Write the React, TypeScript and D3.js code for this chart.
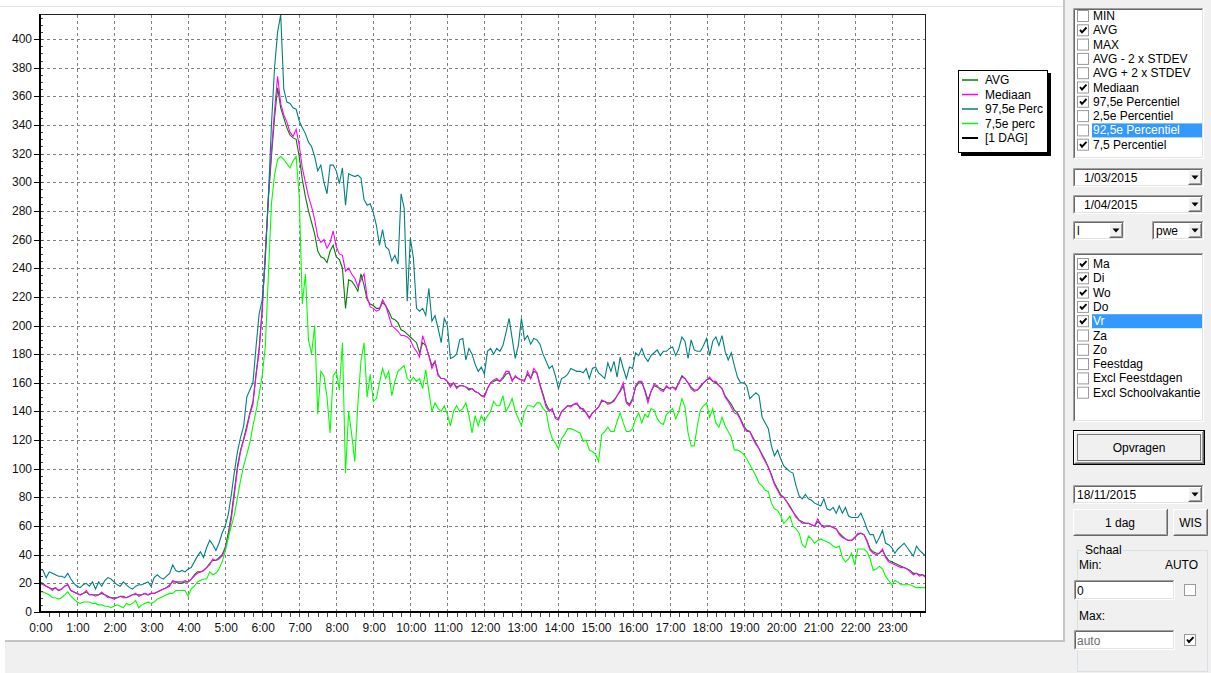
import * as d3 from 'd3';

// 5-minute samples, 0:00 .. 23:55 (one row per hour)
const p975Values = [
  30, 29, 24, 28, 27, 26, 25, 25, 24, 27, 23, 20,
  18, 17, 19, 20, 18, 21, 16, 21, 18, 22, 24, 23,
  21, 19, 18, 21, 19, 17, 16, 18, 19, 19, 20, 21,
  18, 24, 26, 24, 23, 25, 27, 33, 29, 28, 29, 28,
  30, 31, 35, 39, 42, 38, 45, 50, 47, 43, 48, 55,
  60, 68, 82, 98, 112, 122, 130, 150, 155, 160, 185, 208,
  218, 245, 290, 340, 380, 405, 417, 365, 356, 355, 352, 351,
  343, 338, 334, 328, 325, 318, 308, 312, 300, 292, 312, 312,
  308, 299, 310, 284, 306, 305, 304, 305, 303, 288, 284, 285,
  279, 270, 256, 267, 255, 253, 245, 249, 243, 292, 282, 217,
  261, 247, 212, 210, 212, 207, 226, 203, 207, 198, 188, 205,
  200, 177, 178, 180, 190, 191, 176, 184, 180, 173, 168, 171,
  166, 182, 184, 180, 184, 182, 186, 195, 205, 191, 177, 186,
  205, 190, 193, 187, 191, 190, 187, 180, 175, 170, 172, 165,
  156, 163, 164, 166, 170, 169, 168, 168, 167, 170, 163, 170,
  171, 167, 165, 163, 174, 168, 175, 164, 178, 170, 163, 171,
  170, 181, 179, 184, 178, 175, 179, 181, 183, 179, 182, 182,
  184, 185, 179, 184, 192, 189, 177, 190, 183, 182, 182, 186,
  191, 179, 189, 192, 186, 193, 182, 176, 181, 172, 164, 160,
  160, 158, 149, 151, 153, 151, 136, 132, 128, 116, 109, 113,
  107, 102, 100, 98, 97, 88, 81, 79, 82, 79, 78, 76,
  75, 74, 79, 72, 71, 73, 69, 74, 69, 73, 67, 66,
  66, 66, 69, 64, 58, 54, 54, 48, 52, 57, 48, 47,
  45, 41, 44, 46, 48, 45, 42, 39, 46, 43, 41, 39,
];

const medianValues = [
  20, 19, 18, 17, 15, 17, 15, 16, 18, 19, 15, 14,
  13, 12, 13, 15, 12, 12, 11, 12, 14, 12, 10, 10,
  9, 10, 11, 10, 10, 11, 12, 13, 11, 12, 13, 12,
  13, 13, 14, 15, 16, 17, 18, 22, 21, 21, 21, 22,
  21, 23, 25, 27, 28, 29, 31, 33, 37, 36, 37, 39,
  44, 52, 65, 82, 100, 112, 120, 128, 138, 145, 165, 182,
  210, 250, 290, 322, 350, 374, 355, 347, 342, 335, 332, 337,
  326, 310, 300, 290, 283, 274, 262, 258, 260, 254, 258, 266,
  255, 250, 249, 238, 240, 236, 233, 227, 232, 236, 220, 213,
  212, 210, 211, 218, 214, 207, 200, 198, 196, 193, 193, 192,
  190, 185, 182, 178, 193, 186, 179, 170, 175, 165, 163, 163,
  161, 157, 160, 156, 158, 158, 157, 156, 156, 154, 153, 151,
  150, 156, 160, 162, 163, 161, 164, 168, 168, 161, 165, 163,
  162, 161, 168, 163, 170, 167, 158, 151, 143, 140, 142, 135,
  134, 140, 142, 144, 143, 145, 146, 142, 142, 139, 135, 139,
  141, 143, 148, 147, 145, 146, 147, 151, 155, 160, 146, 144,
  148, 158, 161, 161, 154, 146, 154, 159, 158, 155, 154, 158,
  156, 157, 155, 160, 164, 163, 160, 156, 154, 155, 158, 160,
  162, 164, 161, 161, 158, 156, 150, 147, 143, 139, 138, 134,
  129, 126, 126, 121, 117, 114, 109, 105, 101, 95, 89, 85,
  81, 80, 77, 73, 70, 66, 64, 62, 62, 62, 61, 60,
  65, 61, 59, 60, 60, 59, 58, 54, 52, 51, 50, 50,
  52, 55, 55, 54, 49, 43, 41, 40, 41, 44, 38, 35,
  34, 33, 32, 31, 31, 30, 28, 26, 27, 25, 26, 24,
];

const avgValues = [
  21, 20, 18, 17, 16, 17, 15, 16, 18, 19, 15, 14,
  13, 12, 13, 14, 12, 12, 12, 12, 13, 12, 11, 10,
  10, 10, 11, 11, 10, 11, 12, 12, 12, 12, 13, 12,
  13, 13, 14, 15, 16, 17, 19, 21, 21, 20, 20, 21,
  21, 23, 26, 28, 28, 29, 31, 34, 36, 36, 38, 40,
  45, 55, 68, 85, 102, 113, 121, 130, 139, 147, 166, 184,
  212, 250, 288, 318, 345, 366, 352, 345, 338, 333, 331, 330,
  318, 302, 290, 280, 272, 264, 252, 248, 247, 244, 252, 256,
  248, 246, 240, 212, 232, 231, 228, 224, 236, 228, 218, 215,
  214, 212, 212, 216, 214, 210, 205, 204, 202, 197, 196, 194,
  192, 190, 188, 181, 188, 186, 179, 172, 175, 166, 163, 163,
  161, 158, 160, 157, 158, 158, 157, 155, 156, 154, 153, 151,
  151, 156, 160, 161, 162, 161, 163, 166, 167, 162, 164, 163,
  162, 162, 166, 163, 168, 167, 159, 152, 145, 141, 141, 136,
  135, 140, 142, 144, 144, 145, 145, 143, 141, 139, 136, 139,
  141, 143, 147, 147, 146, 146, 148, 151, 154, 158, 147, 145,
  149, 157, 160, 160, 155, 148, 154, 158, 157, 156, 155, 157,
  156, 157, 156, 160, 165, 163, 160, 157, 155, 155, 157, 160,
  162, 163, 161, 160, 158, 156, 151, 148, 145, 141, 139, 135,
  130, 127, 126, 122, 118, 114, 110, 106, 101, 96, 90, 86,
  82, 80, 77, 74, 70, 67, 64, 63, 62, 62, 61, 60,
  63, 61, 60, 60, 60, 59, 58, 55, 53, 51, 50, 50,
  52, 54, 55, 54, 50, 44, 42, 41, 41, 43, 39, 36,
  35, 34, 33, 32, 31, 30, 29, 27, 27, 26, 26, 25,
];

const p75Values = [
  14, 14, 13, 12, 10, 10, 9, 10, 12, 14, 11, 9,
  7, 6, 7, 7, 7, 6, 6, 5, 5, 4, 4, 3,
  4, 5, 4, 3, 6, 5, 6, 8, 3, 5, 6, 7,
  6, 7, 9, 10, 11, 12, 13, 13, 15, 15, 15, 15,
  11, 16, 18, 21, 22, 23, 23, 28, 26, 27, 30, 35,
  42, 52, 60, 68, 80, 92, 102, 110, 118, 130, 140, 152,
  165, 185, 235, 285, 305, 316, 318, 316, 313, 310, 315, 318,
  290, 215, 236, 190, 180, 200, 138, 168, 165, 150, 125, 165,
  168, 155, 188, 97, 140, 124, 105, 145, 175, 188, 150, 166,
  147, 149, 160, 170, 163, 168, 151, 161, 168, 170, 172, 163,
  161, 164, 161, 163, 156, 169, 154, 140, 146, 142, 140, 144,
  138, 130, 140, 144, 140, 142, 146, 137, 125, 137, 130, 137,
  133, 137, 140, 147, 144, 144, 151, 140, 144, 149, 140, 135,
  130, 140, 144, 144, 143, 146, 146, 142, 140, 128, 121, 118,
  114, 121, 124, 128, 128, 127, 126, 125, 119, 120, 113, 112,
  110, 105, 124, 126, 129, 126, 126, 133, 139, 132, 126, 126,
  128, 135, 139, 132, 138, 136, 142, 141, 135, 132, 131, 138,
  140, 142, 135, 140, 149, 143, 125, 116, 116, 130, 141, 144,
  146, 136, 142, 132, 129, 136, 130, 126, 122, 113, 113, 112,
  110, 107, 103, 99, 95, 90, 88, 85, 84, 76, 72, 71,
  67, 62, 64, 67, 60, 58, 55, 47, 45, 53, 51, 48,
  50, 51, 50, 49, 48, 46, 45, 46, 38, 35, 37, 41,
  33, 44, 44, 44, 42, 37, 29, 30, 32, 30, 25, 22,
  19, 22, 21, 19, 19, 19, 19, 18, 17, 17, 17, 17,
];

const hourLabels = d3.range(24).map(h => `${h}:00`);
const yTicks = d3.range(0, 401, 20);

const series = [
  { label: 'AVG', color: '#008000', values: avgValues },
  { label: 'Mediaan', color: '#ff00ff', values: medianValues },
  { label: '97,5e Perc', color: '#008080', values: p975Values },
  { label: '7,5e perc', color: '#00ff00', values: p75Values },
];
const legendExtra = { label: '[1 DAG]', color: '#000000' };

const statItems: [string, boolean][] = [
  ['MIN', false], ['AVG', true], ['MAX', false], ['AVG - 2 x STDEV', false],
  ['AVG + 2 x STDEV', false], ['Mediaan', true], ['97,5e Percentiel', true],
  ['2,5e Percentiel', false], ['92,5e Percentiel', false], ['7,5 Percentiel', true],
];
const dayItems: [string, boolean][] = [
  ['Ma', true], ['Di', true], ['Wo', true], ['Do', true], ['Vr', true],
  ['Za', false], ['Zo', false], ['Feestdag', false], ['Excl Feestdagen', false],
  ['Excl Schoolvakantie', false],
];

const FONT = "'Liberation Sans', Arial, sans-serif";
const FACE = '#f0f0f0';

function Sunken({ x, y, w, h, fill = '#fff' }: { x: number; y: number; w: number; h: number; fill?: string }) {
  return (
    <g>
      <rect x={x} y={y} width={w} height={h} fill={fill} />
      <path d={`M${x + 0.5},${y + h} V${y + 0.5} H${x + w}`} stroke="#a0a0a0" fill="none" />
      <path d={`M${x + 0.5},${y + h - 0.5} H${x + w - 0.5} V${y}`} stroke="#ffffff" fill="none" />
      <path d={`M${x + 1.5},${y + h - 1} V${y + 1.5} H${x + w - 1}`} stroke="#696969" fill="none" />
      <path d={`M${x + 1.5},${y + h - 1.5} H${x + w - 1.5} V${y + 1}`} stroke="#e3e3e3" fill="none" />
    </g>
  );
}

function Raised({ x, y, w, h }: { x: number; y: number; w: number; h: number }) {
  return (
    <g>
      <rect x={x} y={y} width={w} height={h} fill={FACE} />
      <path d={`M${x + 0.5},${y + h} V${y + 0.5} H${x + w}`} stroke="#ffffff" fill="none" />
      <path d={`M${x + 0.5},${y + h - 0.5} H${x + w - 0.5} V${y}`} stroke="#696969" fill="none" />
      <path d={`M${x + 1.5},${y + h - 1.5} H${x + w - 1.5} V${y + 1}`} stroke="#a0a0a0" fill="none" />
    </g>
  );
}

function CheckBox({ x, y, checked }: { x: number; y: number; checked: boolean }) {
  return (
    <g>
      <rect x={x + 0.5} y={y + 0.5} width={11} height={11} fill="#fff" stroke="#9a9a9a" />
      {checked && (
        <path d={`M${x + 3},${y + 5.5} L${x + 5},${y + 8} L${x + 9.5},${y + 3.2}`} fill="none" stroke="#000" strokeWidth={1.9} />
      )}
    </g>
  );
}

function Combo({ x, y, w, h, text, pad = 4 }: { x: number; y: number; w: number; h: number; text: string; pad?: number }) {
  const bx = x + w - 16;
  return (
    <g>
      <Sunken x={x} y={y} w={w} h={h} />
      <Raised x={bx} y={y + 2} w={14} h={h - 4} />
      <path d={`M${bx + 3.5},${y + h / 2 - 2} h7 l-3.5,4 z`} fill="#000" />
      <text x={x + pad} y={y + h / 2 + 0.5} dominantBaseline="central" fontSize={12} fill="#000">{text}</text>
    </g>
  );
}

function CheckList({ x, y, w, h, top, items, selected }: { x: number; y: number; w: number; h: number; top: number; items: [string, boolean][]; selected: number }) {
  const row = d3.scaleLinear().domain([0, 1]).range([top, top + 14.3]);
  return (
    <g>
      <Sunken x={x} y={y} w={w} h={h} />
      {items.map(([label, checked], i) => {
        const cy = row(i);
        return (
          <g key={label}>
            {i === selected && <rect x={x + 19} y={cy - 7} width={w - 21} height={14} fill="#3399ff" />}
            <CheckBox x={x + 4} y={cy - 6} checked={checked} />
            <text x={x + 20} y={cy} dominantBaseline="central" fontSize={12} fill={i === selected ? '#fff' : '#000'}>{label}</text>
          </g>
        );
      })}
    </g>
  );
}

export default function App() {
  const x = d3.scaleLinear().domain([0, 1435]).range([40, 925.7]);
  const y = d3.scaleLinear().domain([0, 417.5]).range([612, 14]);
  const line = d3.line<number>().x((_, i) => x(i * 5)).y(d => y(d));
  const minorX = d3.range(15, 1440, 15);
  const minorY = d3.range(5, 416, 5);

  return (
    <div style={{ position: 'fixed', left: 0, top: 0 }}>
      <svg width={1211} height={673} fontFamily={FONT} style={{ display: 'block' }}>
        <rect width={1211} height={673} fill="#fff" />
        <line x1={0} x2={1063} y1={6.5} y2={6.5} stroke="#e4e4e4" />
        <rect x={5} y={641} width={1059} height={32} fill={FACE} />
        <line x1={5} x2={1064} y1={641} y2={641} stroke="#c4c4c4" strokeWidth={2} />
        <rect x={1064} y={0} width={147} height={673} fill={FACE} />
        <line x1={1064} x2={1064} y1={0} y2={642} stroke="#c4c4c4" strokeWidth={2} />

        {/* grid */}
        <g stroke="#808080" strokeDasharray="3,3">
          {yTicks.slice(1).map(v => (
            <line key={v} x1={41} x2={925} y1={Math.round(y(v)) + 0.5} y2={Math.round(y(v)) + 0.5} />
          ))}
          {hourLabels.slice(1).map((_, h) => (
            <line key={h} x1={Math.round(x((h + 1) * 60)) + 0.5} x2={Math.round(x((h + 1) * 60)) + 0.5} y1={15} y2={611} />
          ))}
        </g>

        {/* series */}
        {series.map(s => (
          <path key={s.label} d={line(s.values) || ''} fill="none" stroke={s.color} strokeWidth={1.1} />
        ))}

        {/* frame and axes */}
        <rect x={40.5} y={14.5} width={885} height={597} fill="none" stroke="#222" />
        <line x1={40} x2={40} y1={14} y2={613} stroke="#000" strokeWidth={2} />
        <line x1={39} x2={926} y1={612} y2={612} stroke="#000" strokeWidth={2} />
        <g stroke="#444">
          {minorY.map(v => (
            <line key={v} x1={41} x2={43} y1={Math.round(y(v)) + 0.5} y2={Math.round(y(v)) + 0.5} />
          ))}
          {minorX.map(m => (
            <line key={m} x1={Math.round(x(m)) + 0.5} x2={Math.round(x(m)) + 0.5} y1={613} y2={617} />
          ))}
        </g>
        {yTicks.map(v => (
          <g key={v}>
            <line x1={34} x2={40} y1={Math.round(y(v)) + 0.5} y2={Math.round(y(v)) + 0.5} stroke="#000" />
            <text x={32} y={y(v)} textAnchor="end" dominantBaseline="central" fontSize={12} fill="#111">{v}</text>
          </g>
        ))}
        {hourLabels.map((label, h) => (
          <text key={label} x={x(h * 60) + 1} y={628} textAnchor="middle" dominantBaseline="central" fontSize={12} fill="#111">{label}</text>
        ))}

        {/* legend */}
        <rect x={961} y={73} width={90} height={83} fill="#000" />
        <rect x={958.5} y={70.5} width={89} height={82} fill="#fff" stroke="#000" />
        {[...series, legendExtra].map((s, i) => {
          const ly = 80 + i * 14.5;
          return (
            <g key={s.label}>
              <line x1={962} x2={978} y1={ly} y2={ly} stroke={s.color} strokeWidth={s.color === '#000000' ? 2 : 1.5} />
              <text x={985} y={ly} dominantBaseline="central" fontSize={12} fill="#000">{s.label}</text>
            </g>
          );
        })}

        {/* side panel */}
        <CheckList x={1073} y={8} w={131} h={151} top={16} items={statItems} selected={8} />
        <Combo x={1073} y={168} w={131} h={19} text="1/03/2015" pad={11} />
        <Combo x={1073} y={195} w={131} h={19} text="1/04/2015" pad={11} />
        <Combo x={1073} y={221} w={52} h={19} text="l" />
        <Combo x={1152} y={221} w={52} h={19} text="pwe" />
        <CheckList x={1073} y={253} w={131} h={169} top={264} items={dayItems} selected={4} />

        <rect x={1073.5} y={430.5} width={131} height={34} fill={FACE} stroke="#000" />
        <Raised x={1074} y={431} w={130} h={33} />
        <rect x={1077.5} y={434.5} width={123} height={26} fill="none" stroke="#000" strokeDasharray="1,1" />
        <text x={1139} y={448} textAnchor="middle" dominantBaseline="central" fontSize={12}>Opvragen</text>

        <Combo x={1073} y={485} w={131} h={19} text="18/11/2015" />
        <Raised x={1073} y={509} w={95} h={27} />
        <text x={1120} y={522.5} textAnchor="middle" dominantBaseline="central" fontSize={12}>1 dag</text>
        <Raised x={1173} y={509} w={35} h={27} />
        <text x={1190.5} y={522.5} textAnchor="middle" dominantBaseline="central" fontSize={12}>WIS</text>

        <rect x={1077.5} y={550.5} width={130} height={121} fill="none" stroke="#d5dfe5" />
        <rect x={1083} y={544} width={40} height={12} fill={FACE} />
        <text x={1085} y={550} dominantBaseline="central" fontSize={12}>Schaal</text>
        <text x={1079} y={565} dominantBaseline="central" fontSize={12}>Min:</text>
        <text x={1198} y={565} textAnchor="end" dominantBaseline="central" fontSize={12}>AUTO</text>
        <Sunken x={1074} y={580} w={101} h={20} />
        <text x={1077} y={590.5} dominantBaseline="central" fontSize={12}>0</text>
        <CheckBox x={1184} y={584} checked={false} />
        <text x={1079} y={616} dominantBaseline="central" fontSize={12}>Max:</text>
        <Sunken x={1074} y={630} w={101} h={20} />
        <text x={1077} y={640.5} dominantBaseline="central" fontSize={12} fill="#6d6d6d">auto</text>
        <CheckBox x={1184} y={634} checked={true} />
      </svg>
    </div>
  );
}
